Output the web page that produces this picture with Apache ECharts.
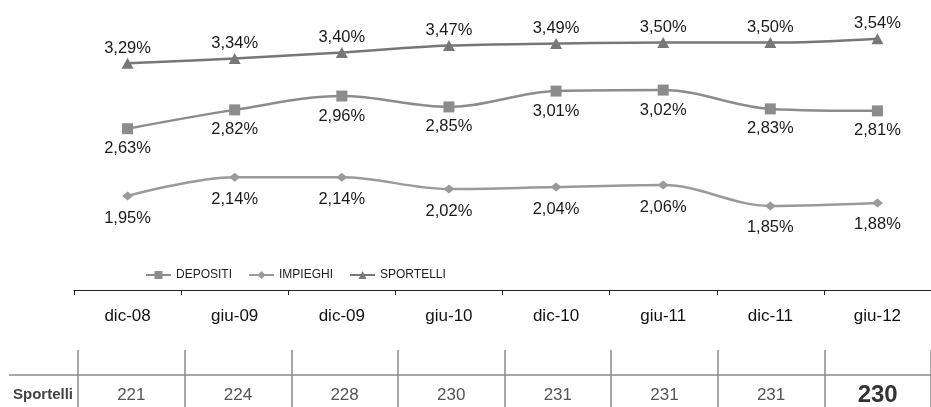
<!DOCTYPE html>
<html>
<head>
<meta charset="utf-8">
<script src="https://cdn.jsdelivr.net/npm/echarts@6/dist/echarts.min.js"></script>
<style>
  html, body { margin: 0; padding: 0; background: #fff; }
  #chart { width: 931px; height: 407px; }
</style>
</head>
<body>
<div id="chart"></div>
<script>
// Periods on the horizontal axis
const periods = ['dic-08', 'giu-09', 'dic-09', 'giu-10', 'dic-10', 'giu-11', 'dic-11', 'giu-12'];

// Market shares (%)
const depositi   = [2.63, 2.82, 2.96, 2.85, 3.01, 3.02, 2.83, 2.81];
const impieghi   = [1.95, 2.14, 2.14, 2.02, 2.04, 2.06, 1.85, 1.88];
const sportelli  = [3.29, 3.34, 3.40, 3.47, 3.49, 3.50, 3.50, 3.54];

// Branch count table row
const sportelliCount = [221, 224, 228, 230, 231, 231, 231, 230];

const FONT = '"Liberation Sans", Arial, sans-serif';
const pct = v => v.toFixed(2).replace('.', ',') + '%';

function lineSeries(name, data, color, symbol, size, labelPos, labelDist) {
  return {
    name: name,
    type: 'line',
    data: data,
    smooth: 0.35,
    symbol: symbol,
    symbolSize: size,
    showAllSymbol: true,
    lineStyle: { color: color, width: 2.5 },
    itemStyle: { color: color },
    label: {
      show: true,
      position: labelPos,
      distance: labelDist,
      fontFamily: FONT,
      fontSize: 16.5,
      color: '#1a1a1a',
      formatter: p => pct(p.value)
    },
    emphasis: { disabled: true },
    animation: false
  };
}

const chart = echarts.init(document.getElementById('chart'), null, { renderer: 'canvas' });

const lastIdx = sportelliCount.length - 1;

chart.setOption({
  backgroundColor: '#ffffff',
  animation: false,
  textStyle: { fontFamily: FONT },
  legend: {
    left: 145,
    top: 269,
    padding: 0,
    itemWidth: 25,
    itemHeight: 10,
    itemGap: 16,
    textStyle: { fontFamily: FONT, fontSize: 12, color: '#222' },
    data: ['DEPOSITI', 'IMPIEGHI', 'SPORTELLI']
  },
  grid: [
    { left: 74, right: -1, top: 3, bottom: 117 },
    { left: 78, right: 0, top: 350, bottom: 0 }
  ],
  xAxis: [
    {
      type: 'category',
      gridIndex: 0,
      data: periods,
      boundaryGap: true,
      axisLine: { show: true, lineStyle: { color: '#222', width: 1.2 } },
      axisTick: { show: true, length: 5, lineStyle: { color: '#222' } },
      axisLabel: { margin: 18, fontFamily: FONT, fontSize: 17, color: '#111', interval: 0 },
      splitLine: { show: false }
    },
    {
      type: 'category',
      gridIndex: 1,
      data: sportelliCount.map(String),
      boundaryGap: true,
      axisLine: { show: false },
      axisTick: { show: false },
      splitLine: { show: true, interval: 0, lineStyle: { color: '#8a8a8a', width: 1.5 } },
      axisLabel: {
        inside: true,
        interval: 0,
        margin: 12,
        verticalAlign: 'middle',
        fontFamily: FONT,
        fontSize: 17,
        color: '#555',
        formatter: (v, i) => i === lastIdx ? '{b|' + v + '}' : v,
        rich: { b: { fontFamily: FONT, fontSize: 24, fontWeight: 'bold', color: '#333' } }
      }
    }
  ],
  yAxis: [
    { type: 'value', gridIndex: 0, min: 1, max: 3.9, show: false },
    { type: 'value', gridIndex: 1, min: 0, max: 1, show: false }
  ],
  series: [
    lineSeries('DEPOSITI', depositi, '#8c8c8c', 'rect', 11, 'bottom', 6),
    lineSeries('IMPIEGHI', impieghi, '#9a9a9a', 'diamond', [11, 9], 'bottom', 9),
    lineSeries('SPORTELLI', sportelli, '#777777', 'triangle', [12, 11], 'top', 1)
  ],
  graphic: [
    {
      type: 'line',
      shape: { x1: 9, y1: 375, x2: 931, y2: 375 },
      style: { stroke: '#8a8a8a', lineWidth: 1.5 },
      silent: true
    },
    {
      type: 'text',
      x: 73,
      y: 395,
      style: {
        text: 'Sportelli',
        fontFamily: FONT,
        fontSize: 15,
        fontWeight: 'bold',
        fill: '#444',
        align: 'right',
        verticalAlign: 'middle'
      },
      silent: true
    }
  ]
});
</script>
</body>
</html>
